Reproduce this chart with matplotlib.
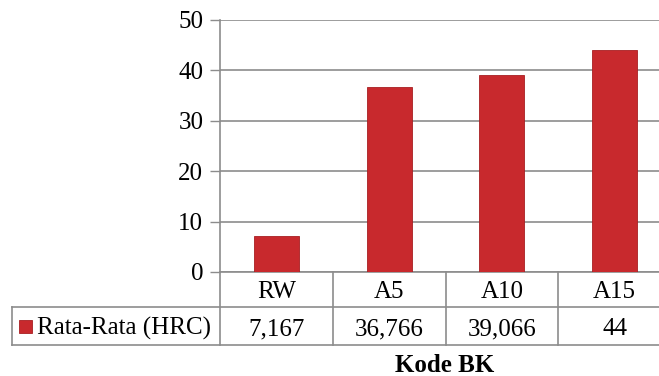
import matplotlib
matplotlib.use("Agg")
import matplotlib.pyplot as plt
from matplotlib.patches import Rectangle

categories = ["RW", "A5", "A10", "A15"]
values = [7.167, 36.766, 39.066, 44]
series_name = "Rata-Rata (HRC)"
x_title = "Kode BK"
y_ticks = [0, 10, 20, 30, 40, 50]

plt.rcParams["font.family"] = ["Liberation Serif", "DejaVu Serif"]

BAR = "#c8292d"
GRID = "#8c8c8c"
FS = 18
H = 376

fig = plt.figure(figsize=(6.59, 3.76), dpi=100)
ax = fig.add_axes([220 / 659, 104 / H, 451 / 659, 252 / H])

xs = list(range(len(categories)))
ax.bar(xs, values, width=0.4, color=BAR, edgecolor="#a81e22", linewidth=0.6, zorder=3)

ax.set_xlim(-0.5, len(categories) - 0.5)
ax.set_ylim(0, 50)
ax.set_yticks(y_ticks)
ax.set_yticklabels([str(t) for t in y_ticks], fontsize=FS)
ax.tick_params(axis="y", length=7, width=1, color=GRID, pad=5)
ax.set_xticks([])
ax.yaxis.grid(True, color=GRID, linewidth=1.2, zorder=0)
for side in ["top", "right", "bottom"]:
    ax.spines[side].set_visible(False)
ax.spines["left"].set_color(GRID)
ax.spines["left"].set_linewidth(1.2)

# data table below the axis
tr = ax.get_xaxis_transform()
row1 = -35 / 252
row2 = -73 / 252
left_edge = -0.5 - 208 / 113
right_edge = len(categories) - 0.5
line_kw = dict(color=GRID, linewidth=1.2, transform=tr, clip_on=False)
ax.plot([-0.5, right_edge], [0, 0], **line_kw)
ax.plot([left_edge, right_edge], [row1, row1], **line_kw)
ax.plot([left_edge, right_edge], [row2, row2], **line_kw)
ax.plot([left_edge, left_edge], [row1, row2], **line_kw)
ax.plot([-0.5, -0.5], [0, row2], **line_kw)
for b in range(1, len(categories) + 1):
    ax.plot([b - 0.5, b - 0.5], [0, row2], **line_kw)

base1 = -26 / 252
base2 = -63 / 252
for x, c, v in zip(xs, categories, values):
    ax.text(x, base1, c, ha="center", va="baseline", fontsize=FS, transform=tr)
    ax.text(x, base2, ("%g" % v).replace(".", ","), ha="center",
            va="baseline", fontsize=FS, transform=tr)

# legend key inside the table
fig.add_artist(Rectangle((19 / 659, (H - 333) / H), 13 / 659, 13 / H,
                         transform=fig.transFigure, facecolor=BAR,
                         edgecolor="#a81e22", linewidth=0.6))
fig.text(37 / 659, (H - 335) / H, series_name, ha="left", va="baseline", fontsize=FS)

fig.text(445 / 659, (H - 372) / H, x_title, ha="center", va="baseline",
         fontsize=FS, fontweight="bold")

fig.savefig("out.png", dpi=100)
